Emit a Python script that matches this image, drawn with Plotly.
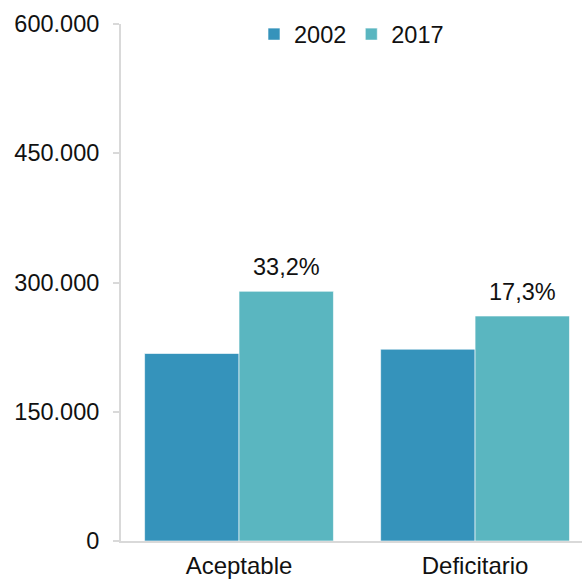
import plotly.graph_objects as go

# Households by housing condition, 2002 vs 2017
categories = ["Aceptable", "Deficitario"]
years = ["2002", "2017"]
values_2002 = [217600, 222600]
values_2017 = [289800, 261100]
y_tick_vals = [0, 150000, 300000, 450000, 600000]
y_tick_text = ["0", "150.000", "300.000", "450.000", "600.000"]

colors = {"2002": "#3593bb", "2017": "#5ab6c0"}
font_family = "Liberation Sans, Arial, sans-serif"
axis_color = "#d9d9d9"

fig = go.Figure()
for year, vals in zip(years, [values_2002, values_2017]):
    fig.add_trace(go.Bar(
        x=categories, y=vals, name=year,
        marker=dict(color=colors[year], line=dict(color="white", width=0.6)),
    ))

# growth labels above the 2017 bars
for i, (a, b) in enumerate(zip(values_2002, values_2017)):
    pct = (b / a - 1) * 100
    label = f"{pct:.1f}%".replace(".", ",")
    fig.add_annotation(
        x=i + 0.2, y=b, xref="x", yref="y", text=label, showarrow=False,
        yanchor="bottom", yshift=9,
        font=dict(family=font_family, size=23.5, color="#111111"),
    )

fig.update_layout(
    width=582, height=580,
    margin=dict(l=121, r=0, t=24, b=39),
    paper_bgcolor="white", plot_bgcolor="white",
    barmode="group", bargap=0.2, bargroupgap=0,
    font=dict(family=font_family, size=24, color="#111111"),
    legend=dict(
        orientation="h", x=0.50, xanchor="center", y=0.98, yanchor="middle",
        font=dict(size=23.5), itemwidth=30, bgcolor="rgba(0,0,0,0)",
    ),
    xaxis=dict(
        range=[-0.5, 1.453], showline=True, linecolor=axis_color, linewidth=2,
        ticks="", showgrid=False, tickfont=dict(size=24),
        ticklabelstandoff=2, automargin=False,
    ),
    yaxis=dict(
        range=[0, 600000], tickvals=y_tick_vals, ticktext=y_tick_text,
        showline=True, linecolor=axis_color, linewidth=2,
        ticks="outside", ticklen=6, tickcolor=axis_color, tickwidth=2,
        showgrid=False, zeroline=False, ticklabelstandoff=9,
        tickfont=dict(size=23.5), automargin=False,
    ),
)

fig.write_html("out.html")
